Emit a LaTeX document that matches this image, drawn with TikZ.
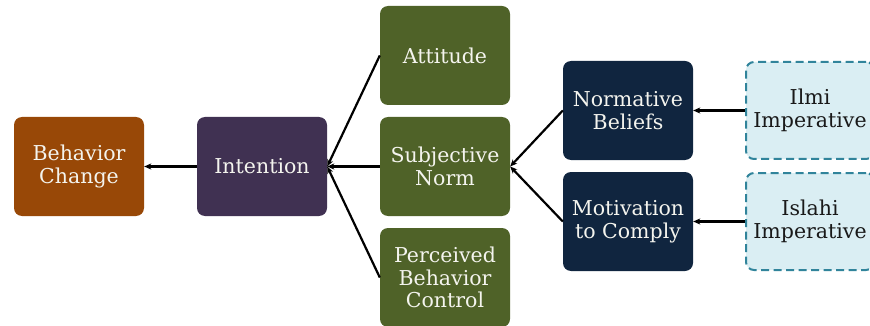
\documentclass[tikz,border=0pt]{standalone}
\usepackage{fontspec}
\setmainfont{DejaVu Serif}
\usetikzlibrary{arrows.meta}
\definecolor{cbrown}{HTML}{984807}
\definecolor{cpurple}{HTML}{403152}
\definecolor{cgreen}{HTML}{4F6228}
\definecolor{cnavy}{HTML}{10253F}
\definecolor{clight}{HTML}{DAEEF3}
\definecolor{cborder}{HTML}{31849B}
\definecolor{ctext}{HTML}{F4F4EE}
\tikzset{
  box/.style={rounded corners=8pt, minimum width=130pt, minimum height=99pt,
    inner sep=0pt, align=center, text=ctext,
    font=\fontsize{20.5}{22.5}\selectfont},
  boxbrown/.style={box, fill=cbrown},
  boxpurple/.style={box, fill=cpurple},
  boxgreen/.style={box, fill=cgreen},
  boxnavy/.style={box, fill=cnavy},
  boxlight/.style={box, fill=clight, draw=cborder, line width=2pt,
    dash pattern=on 8pt off 4.5pt, text=black!90, minimum width=128pt, minimum height=97pt},
  conn/.style={line width=2.2pt, -{Stealth[length=7pt,width=6pt,inset=2pt]}}
}
\begin{document}
\begin{tikzpicture}[x=1pt,y=-1pt]
\useasboundingbox (0,0) rectangle (870,326);
\clip (0,0) rectangle (870,326);
\node[boxbrown] (bc) at (79,166.5) {Behavior\\Change};
\node[boxpurple] (int) at (262,166.5) {Intention};
\node[boxgreen] (att) at (445,55.5) {Attitude};
\node[boxgreen] (sn) at (445,166.5) {Subjective\\Norm};
\node[boxgreen] (pbc) at (445,277.5) {Perceived\\Behavior\\Control};
\node[boxnavy] (nb) at (628,110.5) {Normative\\Beliefs};
\node[boxnavy] (mc) at (628,221.5) {Motivation\\to Comply};
\node[boxlight] (ilmi) at (810,110.5) {Ilmi\\Imperative};
\node[boxlight] (islahi) at (810,221.5) {Islahi\\Imperative};
\draw[conn] (int.west) -- (bc.east);
\draw[conn] (att.west) -- (int.east);
\draw[conn] (sn.west) -- (int.east);
\draw[conn] (pbc.west) -- (int.east);
\draw[conn] (nb.west) -- (sn.east);
\draw[conn] (mc.west) -- (sn.east);
\draw[conn] (ilmi.west) -- (nb.east);
\draw[conn] (islahi.west) -- (mc.east);
\end{tikzpicture}
\end{document}
